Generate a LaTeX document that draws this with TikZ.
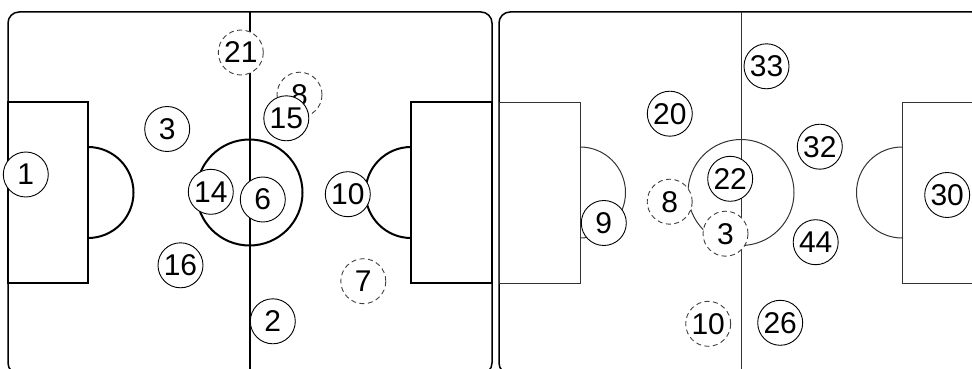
\documentclass[tikz,border=0pt]{standalone}
\usepackage{fontspec}
\setmainfont{Liberation Sans}
\begin{document}
\begin{tikzpicture}[x=1pt,y=-1pt,
  pl/.style={circle,draw=black,fill=white,line width=0.9pt,minimum size=45pt,inner sep=0pt,font=\fontsize{30}{32}\selectfont},
  pld/.style={pl,draw=black!75,dash pattern=on 5pt off 3.5pt},
  thickline/.style={line width=2pt,draw=black},
  thinline/.style={line width=1pt,draw=black!80},
  border/.style={line width=1.5pt,draw=black,rounded corners=11pt}]
\useasboundingbox (0,0) rectangle (972,369);
\clip (0,0) rectangle (972,369);
% left pitch
\draw[border] (8,12) rectangle (492,374);
\draw[thickline] (249.5,12) -- (249.5,374);
\draw[thickline] (249.5,192.5) circle (53);
\draw[thickline] (8,102) rectangle (88,283);
\draw[thickline] (88,147) arc (-90:90:45.5);
\draw[thickline] (411,102) rectangle (492,283);
\draw[thickline] (411,147) arc (-90:-270:45.5);
% right pitch
\draw[border] (499,12) rectangle (983,374);
\draw[thinline] (741,12) -- (741,374);
\draw[thinline] (741,192.5) circle (53);
\draw[thinline] (499,102) rectangle (580,283);
\draw[thinline] (580,147) arc (-90:90:45.5);
\draw[thinline] (902,102) rectangle (983,283);
\draw[thinline] (902,147) arc (-90:-270:45.5);
% left players
\node[pl] (a1) at (25.8,174.5) {1};
\node[pl] (a3) at (167.2,129) {3};
\node[pld] (a21) at (240.8,52.5) {21};
\node[pld] (a8) at (299.5,94.7) {8};
\node[pl] (a15) at (286.3,118.3) {15};
\node[pl] (a14) at (210.8,191.8) {14};
\node[pl] (a6) at (262.8,199.5) {6};
\node[pl] (a10) at (347.8,194.2) {10};
\node[pl] (a16) at (180.5,265.3) {16};
\node[pl] (a2) at (272.8,321.3) {2};
\node[pld] (a7) at (363.3,281.2) {7};
% right players
\node[pl] (b33) at (766.5,66.3) {33};
\node[pl] (b20) at (669.8,113.7) {20};
\node[pl] (b32) at (819.8,146.7) {32};
\node[pl] (b22) at (730.2,178.8) {22};
\node[pld] (b8) at (669.7,201.7) {8};
\node[pl] (b9) at (603.8,223) {9};
\node[pld] (b3) at (725.5,233.7) {3};
\node[pl] (b44) at (815.7,242.2) {44};
\node[pl] (b30) at (947.2,195) {30};
\node[pld] (b10) at (708.2,323.8) {10};
\node[pl] (b26) at (780.2,322.8) {26};
\end{tikzpicture}
\end{document}
